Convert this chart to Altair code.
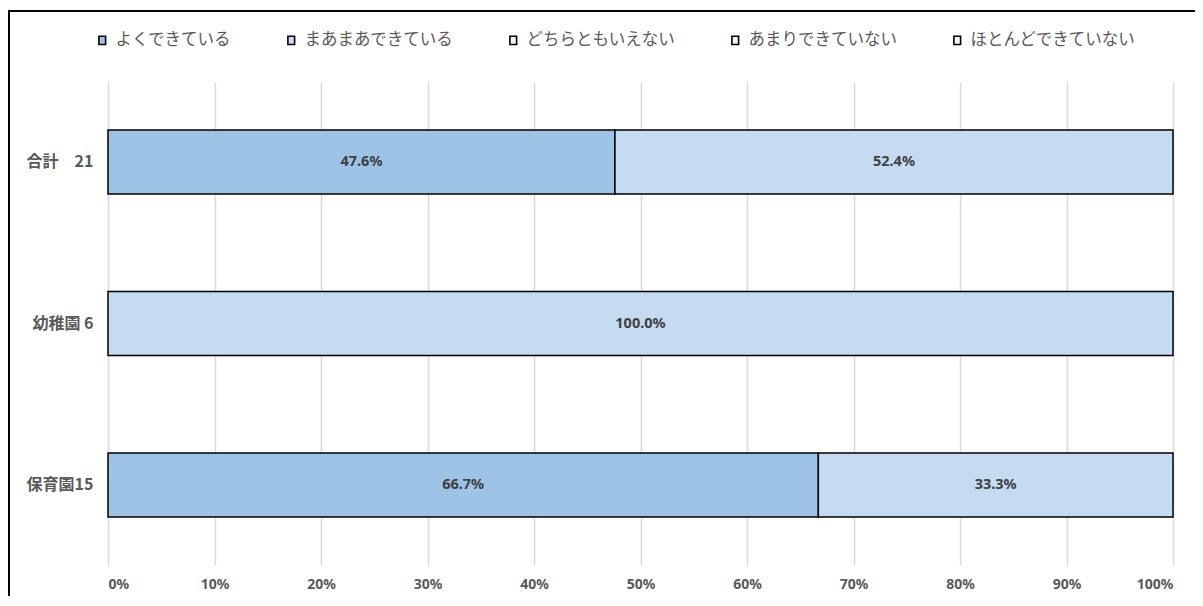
import altair as alt
import pandas as pd

# ---- data ----
categories = ["合計　21", "幼稚園 6", "保育園15"]
series = ["よくできている", "まあまあできている", "どちらともいえない", "あまりできていない", "ほとんどできていない"]
colors = ["#9DC3E6", "#C4DBF2", "#EEF4FB", "#EEF4FB", "#F3F7FC"]

row_cat = ["合計　21", "合計　21", "幼稚園 6", "保育園15", "保育園15"]
row_series = ["よくできている", "まあまあできている", "まあまあできている", "よくできている", "まあまあできている"]
row_value = [0.476, 0.524, 1.000, 0.667, 0.333]

df = pd.DataFrame({
    "cat": row_cat,
    "series": row_series,
    "value": row_value,
})
df["order"] = df["series"].map({s: i for i, s in enumerate(series)})
df["label"] = df["value"].map(lambda v: f"{v*100:.1f}%")

JP = "Noto Sans CJK JP"
NUM = "Noto Sans"

y_enc = alt.Y("cat:N", sort=categories, title=None,
              scale=alt.Scale(paddingInner=0.604, paddingOuter=0.297),
              axis=alt.Axis(labelFont=JP, labelFontSize=16, labelFontWeight="bold",
                            labelColor="#595959", labelPadding=15, ticks=False,
                            domain=False, grid=False))

bars = alt.Chart(df).mark_bar(stroke="#000000", strokeWidth=1.5).encode(
    x=alt.X("value:Q", stack="zero", title=None,
            scale=alt.Scale(domain=[0, 1], nice=False),
            axis=alt.Axis(format=".0%", values=[i / 10 for i in range(11)],
                          labelFont=NUM, labelFontSize=14, labelFontWeight="bold",
                          labelColor="#595959", labelPadding=12, ticks=False,
                          domain=False, grid=True, gridColor="#D9D9D9", gridWidth=1.5)),
    y=y_enc,
    color=alt.Color("series:N",
                    scale=alt.Scale(domain=series, range=colors),
                    legend=alt.Legend(title=None, orient="none", direction="horizontal",
                                      legendX=-14, legendY=-50, columns=5,
                                      columnPadding=52, labelOffset=5, labelLimit=400,
                                      symbolType="M-0.8,-1H0.8V1H-0.8Z", symbolSize=70,
                                      symbolStrokeColor="#000000", symbolStrokeWidth=1.6,
                                      labelFont=JP, labelFontSize=16.5, labelColor="#595959",
                                      padding=0)),
    order=alt.Order("order:Q"),
)

labels = alt.Chart(df).mark_text(font=NUM, fontSize=14.5, fontWeight="bold",
                                 color="#404040").encode(
    x=alt.X("mid:Q"),
    y=alt.Y("cat:N", sort=categories),
    text="label:N",
).transform_stack(
    stack="value", groupby=["cat"], as_=["v0", "v1"],
    sort=[alt.SortField("order", order="ascending")]
).transform_calculate(mid="(datum.v0 + datum.v1) / 2")

frame_df = pd.DataFrame({"k": [0]})
frame = alt.Chart(frame_df).mark_rect(fill="transparent", stroke="#000000",
                                      strokeWidth=2).encode(
    x=alt.value(-99), x2=alt.value(1200), y=alt.value(-71), y2=alt.value(700)
)

chart = alt.layer(bars, labels, frame).properties(
    width=1065, height=483,
    padding={"left": 100, "top": 74, "right": 22, "bottom": 31},
    autosize=alt.AutoSizeParams(type="none"),
    background="#FFFFFF",
).configure_view(stroke=None)

chart.save("out.html", embed_options={"renderer": "svg", "actions": False})
